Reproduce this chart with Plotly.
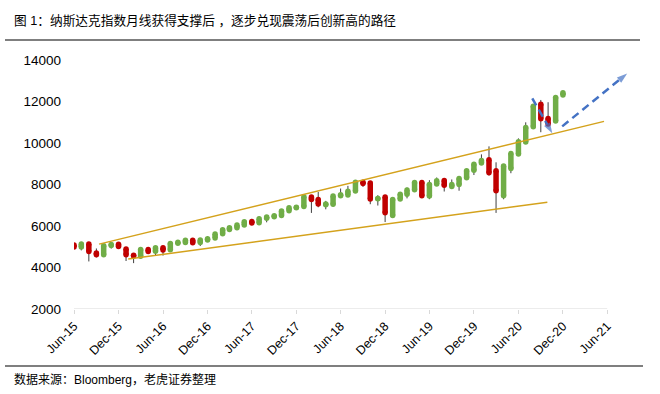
import pandas as pd
import plotly.graph_objects as go

# ---------------- data ----------------
months = pd.date_range("2015-06-01", "2020-12-01", freq="MS")

open_ = [5090, 4990, 5133, 4696, 4614, 5065, 5116,
         4897, 4585, 4545, 4862, 4782, 4953, 4856, 5167, 5210, 5315, 5199, 5331,
         5425, 5632, 5833, 5917, 6052, 6220, 6151, 6375, 6444, 6510, 6737, 6874,
         6938, 7392, 7282, 7025, 7047, 7456, 7497, 7690, 8112, 8068, 7314, 7400,
         6506, 7297, 7536, 7744, 8100, 7440, 8027, 8190, 7909, 8000, 8325, 8683,
         9039, 9190, 8667, 7459, 8770, 9471, 10046, 10789, 11862, 11186, 11061, 12314]
high = [5160, 5232, 5175, 4917, 5100, 5180, 5175,
        4903, 4640, 4895, 4969, 4951, 4980, 5187, 5272, 5343, 5343, 5400, 5512,
        5675, 5867, 5928, 6075, 6222, 6341, 6460, 6443, 6499, 6749, 6914, 7003,
        7506, 7438, 7637, 7211, 7462, 7806, 7934, 8133, 8133, 8107, 7486, 7454,
        7348, 7559, 7850, 8176, 8164, 8207, 8339, 8311, 8243, 8325, 8705, 8980,
        9451, 9838, 9070, 8980, 9523, 10222, 10996, 11860, 12074, 11965, 12226, 12440]
low = [4900, 4825, 4292, 4487, 4543, 4913, 4902,
       4313, 4210, 4536, 4755, 4596, 4575, 4813, 5142, 5106, 5153, 5034, 5306,
       5397, 5601, 5769, 5805, 5996, 6044, 6147, 6178, 6371, 6477, 6692, 6797,
       6938, 6631, 6902, 6805, 6946, 7380, 7483, 7648, 7886, 7050, 6986, 6190,
       6457, 7246, 7332, 7735, 7452, 7292, 8010, 7662, 7857, 7700, 8313, 8457,
       8945, 8436, 6631, 7289, 8544, 9403, 10001, 10675, 10519, 10822, 11036, 12250]
close = [4987, 5128, 4777, 4620, 5054, 5109, 5007,
         4614, 4558, 4870, 4775, 4948, 4843, 5162, 5213, 5312, 5189, 5324, 5383,
         5615, 5825, 5912, 6048, 6199, 6140, 6348, 6429, 6496, 6728, 6874, 6903,
         7411, 7273, 7063, 7066, 7442, 7510, 7672, 8110, 8046, 7306, 7331, 6635,
         7282, 7533, 7729, 8095, 7453, 8006, 8175, 7963, 7999, 8292, 8665, 8973,
         9151, 8567, 7700, 8890, 9490, 10059, 10745, 11775, 11168, 10912, 12198, 12420]

# trend lines (support / resistance)
upper_x = ["2015-09-12", "2021-05-19"]
upper_y = [5127, 11043]
lower_x = ["2016-01-10", "2020-09-28"]
lower_y = [4405, 7147]

# projection arrows
arrow1_x = ["2020-07-28", "2020-10-18"]
arrow1_y = [12149, 10466]
arrow2_x = ["2020-11-28", "2021-08-22"]
arrow2_y = [10802, 13351]

tick_dates = ["2015-06-01", "2015-12-01", "2016-06-01", "2016-12-01", "2017-06-01",
              "2017-12-01", "2018-06-01", "2018-12-01", "2019-06-01", "2019-12-01",
              "2020-06-01", "2020-12-01", "2021-06-01"]
y_ticks = [2000, 4000, 6000, 8000, 10000, 12000, 14000]

title_text = "图 1：纳斯达克指数月线获得支撑后 ，逐步兑现震荡后创新高的路径"
source_text = "数据来源：Bloomberg，老虎证券整理"

# ---------------- styles ----------------
GREEN = "#70AD47"
RED = "#C00000"
WICK = "#3F3F3F"
GOLD = "#D4A21C"
BLUE = "#4472C4"
FONT = "Liberation Sans, Arial, Noto Sans CJK SC"

# ---------------- build segments ----------------
wx, wy = [], []
ux, uy, dx, dy = [], [], [], []
for d, o, h, l, c in zip(months, open_, high, low, close):
    wx += [d, d, None]
    wy += [l, h, None]
    if c >= o:
        ux += [d, d, None]
        uy += [o, c, None]
    else:
        dx += [d, d, None]
        dy += [o, c, None]

fig = go.Figure()
fig.add_trace(go.Scatter(x=wx, y=wy, mode="lines", line=dict(color=WICK, width=1),
                         hoverinfo="skip", showlegend=False))
for xs, ys, col in [(ux, uy, GREEN), (dx, dy, RED)]:
    fig.add_trace(go.Scatter(x=xs, y=ys, mode="lines+markers",
                             line=dict(color=col, width=5.5),
                             marker=dict(color=col, size=5.5, symbol="circle", line=dict(width=0)),
                             hoverinfo="skip", showlegend=False))

for xs, ys in [(upper_x, upper_y), (lower_x, lower_y)]:
    fig.add_trace(go.Scatter(x=xs, y=ys, mode="lines", line=dict(color=GOLD, width=1.5),
                             hoverinfo="skip", showlegend=False))

for xs, ys in [(arrow1_x, arrow1_y), (arrow2_x, arrow2_y)]:
    fig.add_trace(go.Scatter(x=xs, y=ys, mode="lines+markers",
                             line=dict(color=BLUE, width=2.5, dash="8px,5px"),
                             marker=dict(symbol="arrow", angleref="previous", size=[0, 11],
                                         color=BLUE, line=dict(width=0)),
                             cliponaxis=False, hoverinfo="skip", showlegend=False))

L, R, T, B = 74, 27, 60, 85
W, H = 660, 394
pw, ph = W - L - R, H - T - B


def px_x(p):
    return (p - L) / pw


def px_y(p):
    return (H - B - p) / ph


fig.update_layout(
    width=W, height=H,
    margin=dict(l=L, r=R, t=T, b=B),
    paper_bgcolor="white", plot_bgcolor="white",
    font=dict(family=FONT, color="#000000"),
    xaxis=dict(type="date", range=["2015-06-01", "2021-09-15"],
               tickvals=tick_dates, tickformat="%b-%y", tickangle=-45,
               ticks="outside", ticklen=4, tickcolor="#D9D9D9",
               showgrid=False, showline=False, zeroline=False,
               tickfont=dict(size=12.5, family=FONT, color="#000000")),
    yaxis=dict(range=[2000, 14000], tickvals=y_ticks, tickformat="d",
               showgrid=False, showline=False, zeroline=False, ticks="",
               ticklabelstandoff=12,
               tickfont=dict(size=13.5, family=FONT, color="#000000")),
    shapes=[
        dict(type="line", xref="x", yref="y", x0=tick_dates[0], x1=tick_dates[-1],
             y0=y_ticks[0], y1=y_ticks[0], line=dict(color="#D9D9D9", width=1), layer="below"),
        dict(type="line", xref="paper", yref="paper", x0=px_x(5), x1=px_x(640),
             y0=px_y(40), y1=px_y(40), line=dict(color="#000000", width=1.2)),
        dict(type="line", xref="paper", yref="paper", x0=px_x(5), x1=px_x(643),
             y0=px_y(366), y1=px_y(366), line=dict(color="#000000", width=1.2)),
    ],
    annotations=[
        dict(text=title_text, xref="paper", yref="paper", x=px_x(12), y=px_y(20),
             xanchor="left", yanchor="middle", showarrow=False,
             font=dict(family=FONT, size=12.7, color="#000000")),
        dict(text=source_text, xref="paper", yref="paper", x=px_x(12), y=px_y(379),
             xanchor="left", yanchor="middle", showarrow=False,
             font=dict(family=FONT, size=12, color="#000000")),
    ],
)

fig.write_html("out.html", config={"displayModeBar": False},
               post_script="document.body.style.margin='0';")
